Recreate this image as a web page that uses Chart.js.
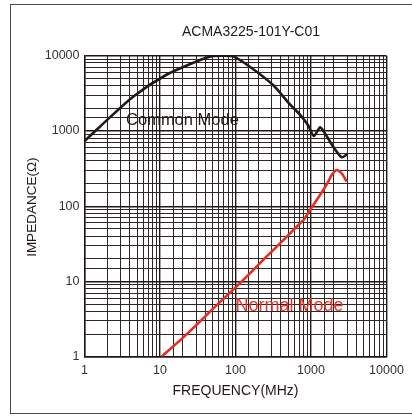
<!DOCTYPE html>
<html>
<head>
<meta charset="utf-8">
<title>ACMA3225-101Y-C01</title>
<script src="https://cdn.jsdelivr.net/npm/chart.js"></script>
<style>
  html, body { margin: 0; padding: 0; background: #fff; }
  #wrap { position: relative; width: 412px; height: 417px; overflow: hidden; }
  #frame { position: absolute; left: 10px; top: 4px; width: 410px; height: 410px; border: 1.5px solid #4d4a4a; box-sizing: border-box; }
  canvas { position: absolute; left: 0; top: 0; }
</style>
</head>
<body>
<div id="wrap">
  <div id="frame"></div>
  <canvas id="chart" width="412" height="417"></canvas>
</div>
<script>
  // values
  const commonFreq = [1, 1.6, 4.4, 12, 34, 50, 70, 93, 155, 314, 527, 714, 920, 1090, 1315, 1455, 1970, 2550, 3030];
  const commonZ    = [735, 1140, 2850, 5540, 8770, 9900, 10000, 9800, 7140, 4080, 2250, 1650, 1180, 857, 1117, 1007, 618, 447, 494];

  const normalFreq = [10.5, 20, 34, 56, 127, 259, 450, 647, 800, 970, 1190, 1455, 1695, 1880, 2190, 2550, 2970];
  const normalZ    = [1, 1.78, 2.95, 4.8, 10.5, 21.5, 37, 53.5, 66, 89, 121, 164, 212, 260, 303, 274, 212];

  const xDecades = [1, 10, 100, 1000, 10000];
  const yDecades = [1, 10, 100, 1000, 10000];

  const chartTitle = 'ACMA3225-101Y-C01';
  const xTitle = 'FREQUENCY(MHz)';
  const yTitle = 'IMPEDANCE(\u03A9)';
  const labels = [
    { text: 'Common Mode', f: 3.55, z: 1377, color: '#231815', size: 16.5 },
    { text: 'Normal Mode', f: 100, z: 4.72, color: '#e8352a', size: 18 }
  ];

  const toPoints = (xs, ys) => xs.map((x, i) => ({ x: x, y: ys[i] }));
  const isDecade = v => Math.abs(Math.log10(v) - Math.round(Math.log10(v))) < 1e-9;

  const FONT = '"Liberation Sans", Arial, sans-serif';

  const textPlugin = {
    id: 'texts',
    afterDraw(chart) {
      const ctx = chart.ctx;
      const area = chart.chartArea;
      const xs = chart.scales.x, ys = chart.scales.y;
      ctx.save();
      ctx.fillStyle = '#231815';
      ctx.textBaseline = 'middle';
      ctx.textAlign = 'center';
      ctx.font = '14px ' + FONT;
      ctx.fillText(chartTitle, 251, 32);
      ctx.fillText(xTitle, (area.left + area.right) / 2, 391);
      ctx.save();
      ctx.font = '13.5px ' + FONT;
      ctx.translate(32, (area.top + area.bottom) / 2 + 1);
      ctx.rotate(-Math.PI / 2);
      ctx.fillText(yTitle, 0, 0);
      ctx.restore();
      ctx.textAlign = 'left';
      labels.forEach(l => {
        ctx.font = l.size + 'px ' + FONT;
        ctx.fillStyle = l.color;
        ctx.fillText(l.text, xs.getPixelForValue(l.f), ys.getPixelForValue(l.z));
      });
      ctx.restore();
    }
  };

  const gridColor = c => isDecade(c.tick.value) ? '#1f1614' : '#2e2626';
  const gridWidth = c => isDecade(c.tick.value) ? 1.4 : 1;

  new Chart(document.getElementById('chart'), {
    type: 'line',
    data: {
      datasets: [
        {
          label: 'Common Mode',
          data: toPoints(commonFreq, commonZ),
          borderColor: '#231815',
          borderWidth: 2.6,
          pointRadius: 0,
          tension: 0.25,
          fill: false
        },
        {
          label: 'Normal Mode',
          data: toPoints(normalFreq, normalZ),
          borderColor: '#e62b22',
          borderWidth: 2.6,
          pointRadius: 0,
          tension: 0.2,
          fill: false
        }
      ]
    },
    options: {
      responsive: false,
      animation: false,
      layout: { padding: { left: 0, right: 25.5, top: 55.7, bottom: 0 } },
      plugins: { legend: { display: false }, tooltip: { enabled: false } },
      scales: {
        x: {
          type: 'logarithmic',
          min: 1,
          max: 10000,
          afterFit: s => { s.height = 60.3; },
          border: { display: true, color: '#1f1614', width: 1.4 },
          grid: { color: gridColor, lineWidth: gridWidth, drawTicks: false },
          ticks: {
            autoSkip: false,
            maxRotation: 0,
            padding: 6,
            color: '#333',
            font: { family: FONT, size: 12.5 },
            callback: v => xDecades.includes(v) ? String(v) : ''
          }
        },
        y: {
          type: 'logarithmic',
          min: 1,
          max: 10000,
          afterFit: s => { s.width = 84.5; },
          border: { display: true, color: '#1f1614', width: 1.4 },
          grid: { color: gridColor, lineWidth: gridWidth, drawTicks: false },
          ticks: {
            autoSkip: false,
            padding: 5,
            color: '#333',
            font: { family: FONT, size: 12.5 },
            callback: v => yDecades.includes(v) ? String(v) : ''
          }
        }
      }
    },
    plugins: [textPlugin]
  });
</script>
</body>
</html>
